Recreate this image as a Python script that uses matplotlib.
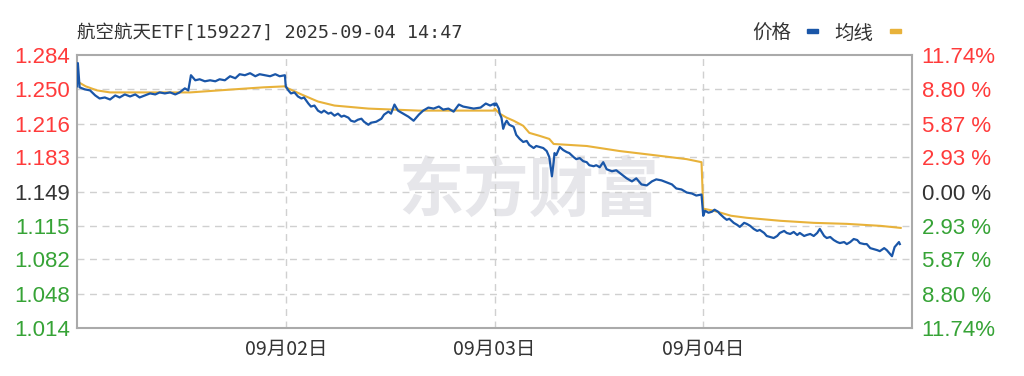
import matplotlib
matplotlib.use("Agg")
import matplotlib.pyplot as plt
import numpy as np

plt.rcParams['font.family'] = ['Noto Sans CJK SC', 'DejaVu Sans']

title = "航空航天ETF[159227] 2025-09-04 14:47"
day_labels = ["09月02日", "09月03日", "09月04日"]
prev_close = 1.149
left_ticks = ["1.014", "1.048", "1.082", "1.115", "1.149", "1.183", "1.216", "1.250", "1.284"]
right_ticks = ["11.74%", "8.80 %", "5.87 %", "2.93 %", "0.00 %", "2.93 %", "5.87 %", "8.80 %", "11.74%"]

# price: minutes since open of each day, and price
d1_t = [0, 1, 3, 9, 15, 21, 26, 32, 38, 44, 49, 55, 61, 67, 72, 78, 84, 90, 95, 101, 107, 113, 118,
        124, 128, 131, 136, 141, 147, 153, 159, 164, 170, 176, 182, 187, 193, 199, 205, 210, 216,
        222, 228, 233, 239]
d1_p = [1.253, 1.276, 1.252, 1.250, 1.249, 1.244, 1.241, 1.242, 1.240, 1.244, 1.242, 1.245, 1.243,
        1.245, 1.242, 1.244, 1.246, 1.245, 1.247, 1.246, 1.247, 1.245, 1.247, 1.251, 1.249, 1.264,
        1.259, 1.260, 1.258, 1.259, 1.258, 1.260, 1.259, 1.263, 1.261, 1.265, 1.264, 1.266, 1.263,
        1.265, 1.264, 1.263, 1.265, 1.263, 1.264]
d2_t = [0, 3, 6, 10, 14, 18, 21, 26, 29, 33, 37, 41, 44, 49, 52, 56, 60, 64, 67, 72, 75, 79, 83, 87,
        90, 95, 98, 104, 110, 113, 118, 121, 125, 129, 135, 141, 147, 153, 158, 164, 170, 176, 181,
        187, 193, 199, 204, 210, 216, 224, 230, 235, 240]
d2_p = [1.253, 1.249, 1.246, 1.247, 1.243, 1.241, 1.242, 1.236, 1.233, 1.234, 1.229, 1.227, 1.229,
        1.226, 1.227, 1.224, 1.226, 1.223, 1.224, 1.222, 1.219, 1.218, 1.220, 1.221, 1.218, 1.215,
        1.217, 1.218, 1.221, 1.225, 1.228, 1.226, 1.235, 1.229, 1.226, 1.223, 1.219, 1.225, 1.229,
        1.232, 1.231, 1.233, 1.230, 1.231, 1.228, 1.235, 1.233, 1.232, 1.231, 1.232, 1.236, 1.234,
        1.236]
d3_t = [0, 2, 5, 6, 8, 10, 12, 14, 17, 22, 25, 29, 33, 37, 40, 45, 48, 52, 56, 60, 63, 66, 68, 69,
        71, 75, 79, 83, 86, 91, 94, 98, 102, 106, 109, 114, 117, 121, 125, 129, 135, 140, 146, 152,
        158, 163, 169, 175, 181, 186, 192, 198, 204, 209, 215, 221, 227, 232, 238]
d3_p = [1.234, 1.236, 1.231, 1.226, 1.222, 1.211, 1.216, 1.219, 1.215, 1.213, 1.205, 1.201, 1.198,
        1.199, 1.195, 1.192, 1.194, 1.193, 1.192, 1.189, 1.183, 1.164, 1.178, 1.187, 1.185, 1.193,
        1.190, 1.188, 1.187, 1.183, 1.181, 1.182, 1.179, 1.178, 1.175, 1.174, 1.175, 1.173, 1.178,
        1.171, 1.169, 1.170, 1.166, 1.162, 1.159, 1.162, 1.156, 1.155, 1.159, 1.161, 1.160, 1.158,
        1.156, 1.152, 1.151, 1.148, 1.147, 1.145, 1.146]
d4_t = [0, 2, 6, 10, 13, 17, 19, 24, 27, 30, 35, 39, 42, 47, 50, 54, 58, 62, 65, 70, 73, 77, 81, 85,
        88, 93, 96, 100, 104, 108, 111, 116, 119, 123, 127, 131, 134, 139, 142, 146, 150, 154, 157,
        162, 165, 169, 173, 177, 180, 185, 188, 192, 196, 200, 203, 208, 211, 215, 217, 220, 225, 226]
d4_p = [1.125, 1.130, 1.128, 1.129, 1.131, 1.129, 1.127, 1.123, 1.121, 1.122, 1.118, 1.116, 1.114,
        1.118, 1.117, 1.115, 1.112, 1.110, 1.111, 1.108, 1.105, 1.104, 1.103, 1.105, 1.108, 1.110,
        1.108, 1.107, 1.109, 1.106, 1.108, 1.105, 1.106, 1.107, 1.105, 1.108, 1.112, 1.105, 1.103,
        1.104, 1.101, 1.099, 1.098, 1.099, 1.097, 1.099, 1.102, 1.101, 1.098, 1.097, 1.097, 1.093,
        1.092, 1.091, 1.090, 1.093, 1.091, 1.087, 1.085, 1.094, 1.099, 1.097]

# average line
a1_t = [0, 2, 10, 23, 38, 130, 180, 214, 239]
a1_p = [1.258, 1.257, 1.253, 1.249, 1.247, 1.247, 1.250, 1.252, 1.253]
a2_t = [0, 18, 37, 56, 95, 153, 240]
a2_p = [1.252, 1.245, 1.238, 1.234, 1.231, 1.229, 1.229]
a3_t = [0, 6, 14, 22, 33, 40, 52, 63, 68, 106, 144, 183, 221, 238]
a3_p = [1.231, 1.226, 1.222, 1.219, 1.214, 1.207, 1.204, 1.201, 1.196, 1.194, 1.189, 1.185, 1.181, 1.178]
a4_t = [0, 12, 32, 50, 89, 127, 165, 204, 227]
a4_p = [1.132, 1.130, 1.125, 1.123, 1.120, 1.118, 1.117, 1.115, 1.113]

price_t = np.concatenate([np.array(t) + 240 * i for i, t in enumerate([d1_t, d2_t, d3_t, d4_t])])
price = np.concatenate([d1_p, d2_p, d3_p, d4_p])
avg_t = np.concatenate([np.array(t) + 240 * i for i, t in enumerate([a1_t, a2_t, a3_t, a4_t])])
avg = np.concatenate([a1_p, a2_p, a3_p, a4_p])

blue = "#1a56a8"
gold = "#e8b23a"
red = "#ff3b3b"
green = "#36a336"
dark = "#333333"

fig = plt.figure(figsize=(10.24, 3.76), dpi=100)
ax = fig.add_axes([77/1024, 1-328/376, 835/1024, 273/376])

tick_vals = [float(s) for s in left_ticks]
ax.set_ylim(tick_vals[0], tick_vals[-1])
ax.set_xlim(0, 960)

for v in tick_vals[1:-1]:
    ax.axhline(v, color="#d0d0d0", lw=1, ls=(0, (5, 4)), zorder=1)
for d in [240, 480, 720]:
    ax.axvline(d, color="#d0d0d0", lw=1, ls=(0, (5, 4)), zorder=1)

# watermark
ax.text(0.541, 0.5, "东方财富", transform=ax.transAxes, fontsize=47, fontweight="bold",
        color="#e6e6ea", ha="center", va="center", zorder=0)

ax.plot(avg_t, avg, color=gold, lw=1.5, zorder=3)
ax.plot(price_t, price, color=blue, lw=1.6, zorder=4)

for s in ax.spines.values():
    s.set_color("#aaaaaa")
    s.set_linewidth(1.5)

ax.set_yticks(tick_vals)
ax.set_yticklabels(left_ticks)
ax.tick_params(axis="y", length=0, pad=5, labelsize=16)
for lbl, v in zip(ax.get_yticklabels(), tick_vals):
    lbl.set_family(['Liberation Sans', 'DejaVu Sans'])
    lbl.set_color(red if v > prev_close + 1e-6 else (green if v < prev_close - 1e-6 else dark))

ax2 = ax.twinx()
ax2.set_ylim(tick_vals[0], tick_vals[-1])
ax2.set_yticks(tick_vals)
ax2.set_yticklabels(right_ticks)
ax2.tick_params(axis="y", length=0, pad=7, labelsize=16)
for lbl, v in zip(ax2.get_yticklabels(), tick_vals):
    lbl.set_family(['Liberation Sans', 'DejaVu Sans'])
    lbl.set_color(red if v > prev_close + 1e-6 else (green if v < prev_close - 1e-6 else dark))
for s in ax2.spines.values():
    s.set_visible(False)

ax.set_xticks([240, 480, 720])
ax.set_xticklabels(day_labels)
ax.tick_params(axis="x", length=0, pad=8, labelsize=14, labelcolor=dark)

fig.text(77/1024, 1-33/376, title, fontsize=13.3, color=dark, va="center", ha="left",
         family=['DejaVu Sans Mono', 'Noto Sans CJK SC'])
fig.text(752/1024, 1-33/376, "价格", fontsize=14, color=dark, va="center", ha="left")
fig.text(834/1024, 1-33/376, "均线", fontsize=14, color=dark, va="center", ha="left")
fig.patches.append(plt.Rectangle((807/1024, 1-33/376), 11/1024, 4/376, color=blue,
                                 transform=fig.transFigure, figure=fig))
fig.patches.append(plt.Rectangle((890/1024, 1-33/376), 11/1024, 4/376, color=gold,
                                 transform=fig.transFigure, figure=fig))

fig.savefig("out.png", dpi=100, facecolor="white")
